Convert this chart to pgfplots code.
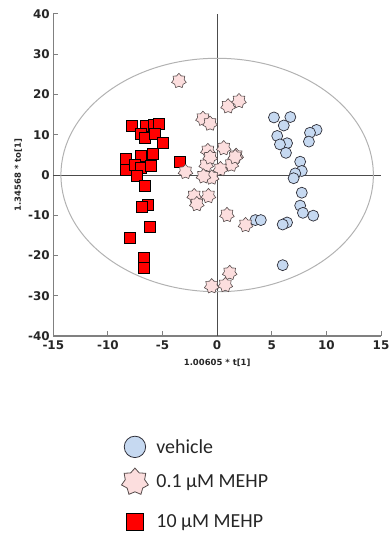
\documentclass[border=0pt]{standalone}
\usepackage{pgfplots}
\pgfplotsset{compat=1.18}
\usepackage{fontspec}
\setmainfont{Carlito}
\newfontfamily\tahoma{DejaVu Sans}
\usetikzlibrary{plotmarks}
\definecolor{vblue}{RGB}{198,217,241}
\definecolor{vedge}{RGB}{45,45,55}
\definecolor{spink}{RGB}{252,222,222}
\definecolor{sedge}{RGB}{85,75,75}
\definecolor{sqred}{RGB}{255,0,0}

\pgfdeclareplotmark{star7}{%
 \pgfpathmoveto{\pgfpointpolar{90}{\pgfplotmarksize}}%
 \pgfpathlineto{\pgfpointpolar{115.7143}{0.72\pgfplotmarksize}}%
 \pgfpathlineto{\pgfpointpolar{141.4286}{\pgfplotmarksize}}%
 \pgfpathlineto{\pgfpointpolar{167.1429}{0.72\pgfplotmarksize}}%
 \pgfpathlineto{\pgfpointpolar{192.8571}{\pgfplotmarksize}}%
 \pgfpathlineto{\pgfpointpolar{218.5714}{0.72\pgfplotmarksize}}%
 \pgfpathlineto{\pgfpointpolar{244.2857}{\pgfplotmarksize}}%
 \pgfpathlineto{\pgfpointpolar{270}{0.72\pgfplotmarksize}}%
 \pgfpathlineto{\pgfpointpolar{295.7143}{\pgfplotmarksize}}%
 \pgfpathlineto{\pgfpointpolar{321.4286}{0.72\pgfplotmarksize}}%
 \pgfpathlineto{\pgfpointpolar{347.1429}{\pgfplotmarksize}}%
 \pgfpathlineto{\pgfpointpolar{12.8571}{0.72\pgfplotmarksize}}%
 \pgfpathlineto{\pgfpointpolar{38.5714}{\pgfplotmarksize}}%
 \pgfpathlineto{\pgfpointpolar{64.2857}{0.72\pgfplotmarksize}}%
 \pgfpathclose
 \pgfusepathqfillstroke}

\pgfplotsset{
 leg/.style 2 args={legend image code/.code={\path[draw=none,fill=none] (-12bp,-#1) rectangle (12bp,#2); \draw[##1] plot coordinates {(0bp,0bp)};}}
}

\begin{document}
\begin{tikzpicture}
\path[use as bounding box] (0,0) rectangle (391bp,533bp);
\begin{axis}[
 at={(53.3bp,197bp)}, anchor=south west,
 scale only axis, width=327.7bp, height=322bp,
 xmin=-15, xmax=15, ymin=-40, ymax=40,
 axis x line*=bottom, axis y line*=left,
 axis line style={-, draw=gray, line width=1.1pt},
 xtick={-15,-10,...,15}, ytick={-40,-30,...,40},
 tick align=inside, major tick length=4.5bp,
 tick style={draw=gray, line width=1pt},
 ticklabel style={font=\tahoma\bfseries\fontsize{12}{12}\selectfont, text=black!85},
 xticklabel style={yshift=-1.5bp},
 /pgf/number format/assume math mode=true,
 xlabel={1.00605 * t[1]}, ylabel={1.34568 * to[1]},
 label style={font=\tahoma\bfseries\fontsize{8.5}{10}\selectfont, text=black!85},
 xlabel style={at={(axis description cs:0.5,-0.083)}, anchor=center},
 ylabel style={at={(axis description cs:-0.107,0.5)}, anchor=center},
 legend style={draw=none, fill=none, inner sep=0pt, at={(axis description cs:0.2075,-0.2894)}, anchor=north west, font=\fontsize{20}{24}\selectfont, text=black!85, row sep=0pt, column sep=8bp, nodes={inner sep=0pt}},
 legend cell align=left,
 clip=false,
]
\draw[gray!60!black, line width=0.9pt] (axis cs:-15,0) -- (axis cs:15,0);
\draw[gray!60!black, line width=0.9pt] (axis cs:0,-40) -- (axis cs:0,40);
\draw[gray!60, line width=1pt] (axis cs:0,0) ellipse [x radius=14.3, y radius=29];

\addlegendimage{only marks, mark=*, mark size=10.7bp, mark options={fill=vblue, draw=vedge, line width=0.8pt}, leg={17.5bp}{17.5bp}}
\addlegendentry{vehicle}
\addlegendimage{only marks, mark=star7, mark size=13.8bp, mark options={fill=spink, draw=sedge, line width=0.8pt}, leg={22.5bp}{17.5bp}}
\addlegendentry{0.1 µM MEHP}
\addlegendimage{only marks, mark=square*, mark size=8.3bp, mark options={fill=sqred, draw=black, line width=0.8pt}, leg={17.5bp}{17.5bp}}
\addlegendentry{10 µM MEHP}

% vehicle
\addplot[only marks, mark=*, mark size=5.5bp, mark options={fill=vblue, draw=vedge, line width=0.7pt}, forget plot] coordinates {
(5.2,14.3)(6.7,14.4)(6.1,12.3)(9.1,11.2)(8.5,10.5)(8.4,8.3)(5.5,9.7)(6.4,7.9)(5.75,7.6)(6.3,5.5)(7.6,3.3)(7.75,1.0)(7.15,0.4)(7.0,-0.8)(7.75,-4.4)(7.6,-7.6)(7.85,-9.4)(8.8,-10.1)(3.5,-11.2)(4.0,-11.2)(6.4,-11.8)(6.0,-12.3)(6.0,-22.4)
};
% 10 uM
\addplot[only marks, mark=square*, mark size=5.5bp, mark options={fill=sqred, draw=black, line width=0.7pt}, forget plot] coordinates {
(-7.8,12.2)(-6.5,12.2)(-5.8,12.4)(-5.3,12.7)(-7.0,10.2)(-6.6,9.3)(-5.7,10.1)(-5.0,8.0)(-5.9,5.2)(-8.4,3.9)(-7.0,4.7)(-8.4,1.4)(-7.5,2.5)(-7.0,1.9)(-6.1,2.2)(-7.35,-0.2)(-6.6,-2.6)(-3.4,3.3)(-6.35,-7.3)(-6.9,-7.9)(-6.2,-13.0)(-8.0,-15.7)(-6.7,-20.5)(-6.7,-23.0)
};
% 0.1 uM
\addplot[only marks, mark=star7, mark size=7.5bp, mark options={fill=spink, draw=sedge, line width=0.6pt}, forget plot] coordinates {
(-3.5,23.4)(-1.3,14.0)(-0.65,12.8)(1.0,17.1)(2.0,18.4)(-0.85,6.0)(0.6,6.7)(1.74,4.8)(1.3,2.6)(0.3,1.5)(-1.0,2.5)(-0.5,-0.6)(-1.25,-0.3)(-0.64,4.4)(-2.9,0.8)(1.65,4.5)(-2.1,-5.2)(-0.8,-5.2)(-1.86,-7.2)(0.9,-9.9)(2.6,-12.4)(1.15,-24.3)(0.75,-27.3)(-0.5,-27.6)
};
\end{axis}
\end{tikzpicture}
\end{document}
